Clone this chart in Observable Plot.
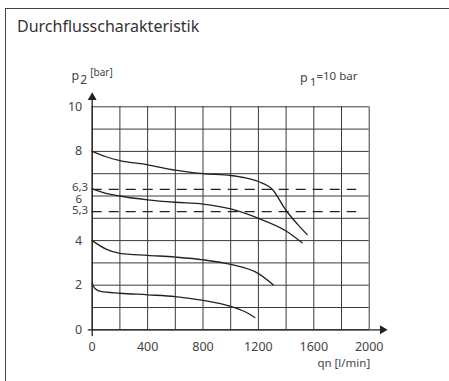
<!DOCTYPE html>
<html><head><meta charset="utf-8">
<script src="https://cdn.jsdelivr.net/npm/d3@7"></script>
<script src="https://cdn.jsdelivr.net/npm/@observablehq/plot@0.6"></script>
<style>
body{margin:0;background:#fff;}
#wrap{position:relative;width:449px;height:381px;overflow:hidden;font-family:"Noto Sans",sans-serif;}
#frame{position:absolute;left:5px;top:7.5px;width:470px;height:400px;border-left:1.5px solid #444;border-top:1.5px solid #444;}
#title{position:absolute;left:17px;top:16px;font-size:16px;color:#333;line-height:20px;}
#wrap svg{position:absolute;left:0;top:0;}
</style></head><body><div id="wrap"><div id="frame"></div><div id="title">Durchflusscharakteristik</div></div>
<script>
// grid / tick values
const xGrid = [0,200,400,600,800,1000,1200,1400,1600,1800,2000];
const yGrid = [0,1,2,3,4,5,6,7,8,9,10];
const xTickValues = [0,400,800,1200,1600,2000];
const yTickValues = [0,2,4,8,10];
const yTickLabels = ["0","2","4","8","10"];
const ySixValue = [6];
const ySixLabel = ["6"];
const refLevels = [6.3,5.3];
const refLabels = ["6,3","5,3"];

// curves (qn in l/min, p2 in bar) for p1 = 10 bar
const qnA = [0,100,200,400,600,800,1000,1100,1200,1300,1400,1480,1552];
const p2A = [8.0,7.76,7.59,7.40,7.16,7.0,6.92,6.82,6.65,6.3,5.35,4.75,4.27];
const qnB = [0,100,200,400,600,800,1000,1200,1400,1516];
const p2B = [6.32,6.12,6.0,5.83,5.72,5.64,5.42,5.0,4.43,3.9];
const qnC = [0,100,200,400,600,800,1000,1200,1307];
const p2C = [4.0,3.62,3.43,3.34,3.26,3.14,2.93,2.52,2.02];
const qnD = [0,20,60,200,400,600,800,1000,1100,1174];
const p2D = [2.08,1.85,1.72,1.64,1.57,1.49,1.32,1.05,0.82,0.55];

const series = [["A",qnA,p2A],["B",qnB,p2B],["C",qnC,p2C],["D",qnD,p2D]];
const rows = series.flatMap(([s,q,p]) => q.map((v,i)=>({s, q:v, p:p[i]})));
const yLabRows = yTickValues.map((v,i)=>({v, t:yTickLabels[i]}));
const sixRows = ySixValue.map((v,i)=>({v, t:ySixLabel[i]}));
const refRows = refLevels.map((v,i)=>({v, t:refLabels[i]}));

const ink = "#222", grid = "#3a3a3a", txt = "#444";
const chart = Plot.plot({
  width:449, height:381,
  marginLeft:91.7, marginRight:80.3, marginTop:106.3, marginBottom:51.7,
  x:{domain:[0,2000], axis:null},
  y:{domain:[0,10], axis:null},
  style:{fontFamily:'"Noto Sans",sans-serif', background:"transparent", color:txt},
  marks:[
    Plot.ruleX(xGrid,{x:d=>d, y1:0, y2:10, stroke:grid, strokeWidth:1}),
    Plot.ruleY(yGrid,{y:d=>d, x1:0, x2:2000, stroke:grid, strokeWidth:1}),
    Plot.ruleY(refLevels,{y:d=>d, x1:0, x2:1910, stroke:ink, strokeWidth:1.3, strokeDasharray:"10,7"}),
    Plot.line(rows,{x:"q", y:"p", z:"s", curve:"monotone-x", stroke:ink, strokeWidth:1.3}),
    // axes
    Plot.ruleX([0],{y1:-0.3, y2:10.4, stroke:ink, strokeWidth:1.3}),
    Plot.ruleY([0],{x1:-28, x2:2090, stroke:ink, strokeWidth:1.3}),
    Plot.dot([0],{x:0, y:10.42, symbol:"triangle", r:3.3, fill:ink, stroke:null}),
    Plot.dot([0],{x:2096, y:0, symbol:"triangle", r:3.3, fill:ink, stroke:null, rotate:90}),
    // tick labels
    Plot.text(yLabRows,{x:0, y:"v", text:"t", textAnchor:"end", dx:-10, fontSize:12.5, fill:txt}),
    Plot.text(sixRows,{x:0, y:"v", text:"t", textAnchor:"end", dx:-10, dy:3, fontSize:11.5, fill:txt}),
    Plot.text(refRows,{x:0, y:"v", text:"t", textAnchor:"end", dx:-4, dy:-1.5, fontSize:11.5, fill:txt}),
    Plot.text(xTickValues,{x:d=>d, y:0, text:d=>String(d), dy:17, fontSize:12.5, fill:txt}),
    Plot.text(["qn [l/min]"],{x:2000, y:0, text:d=>d, textAnchor:"end", dx:1, dy:34, fontSize:11.5, fill:txt}),
    // axis titles
    Plot.text(["p"],{x:0, y:10, text:d=>d, textAnchor:"end", dx:-13, dy:-31, fontSize:12.5, fill:txt}),
    Plot.text(["2"],{x:0, y:10, text:d=>d, textAnchor:"start", dx:-12, dy:-27, fontSize:12, fill:txt}),
    Plot.text(["[bar]"],{x:0, y:10, text:d=>d, textAnchor:"start", dx:-2, dy:-34, fontSize:10, fill:txt}),
    Plot.text(["p"],{x:1500, y:10, text:d=>d, textAnchor:"start", dx:0, dy:-29, fontSize:12.5, fill:txt}),
    Plot.text(["1"],{x:1500, y:10, text:d=>d, textAnchor:"start", dx:10, dy:-24, fontSize:11, fill:txt}),
    Plot.text(["=10 bar"],{x:1500, y:10, text:d=>d, textAnchor:"start", dx:16.5, dy:-30, fontSize:11.5, fill:txt})
  ]
});
document.getElementById("wrap").appendChild(chart);
</script></body></html>
